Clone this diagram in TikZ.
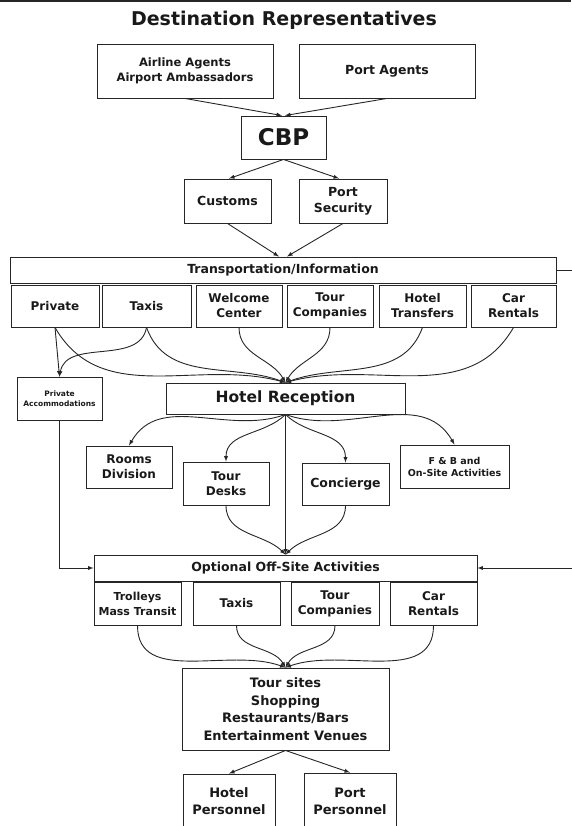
\documentclass[tikz,border=0pt]{standalone}
\usepackage{fontspec}
\setmainfont{DejaVu Sans}
\usepackage{tikz}

\newcommand{\txt}[2]{\bfseries\fontsize{#1}{#2}\selectfont}

\begin{document}
\begin{tikzpicture}[x=1pt, y=1pt, line width=0.9pt, draw=black!85,
  box/.style={draw, rectangle, align=center, inner sep=0pt, text=black!90, font=\txt{12}{15}},
  arr/.style={->, >=latex}]
\useasboundingbox (0,0) rectangle (571,-826);
\fill[black!85] (0,0) rectangle (571,-2.2);
\node[font=\txt{19}{22}, text=black!90] (title) at (284,-20) {Destination Representatives};
% entry
\node[box, minimum width=176, minimum height=54, font=\txt{11.5}{14.5}] (air) at (185,-71) {Airline Agents\\Airport Ambassadors};
\node[box, minimum width=176, minimum height=54, font=\txt{12.5}{15}] (port) at (387,-71) {Port Agents};
\node[box, minimum width=85, minimum height=43, font=\txt{23}{26}] (cbp) at (283.5,-137.5) {CBP};
\node[box, minimum width=87, minimum height=44, font=\txt{12.5}{16}] (cust) at (227.5,-201) {Customs};
\node[box, minimum width=88, minimum height=44, font=\txt{12.5}{16}] (psec) at (343,-201) {Port\\Security};
\draw[arr] (air.south) -- ([xshift=-1.5pt]cbp.north);
\draw[arr] (port.south) -- ([xshift=1.5pt]cbp.north);
\draw[arr] (cbp.south) -- ([xshift=1.5pt]cust.north);
\draw[arr] (cbp.south) -- ([xshift=-4pt]psec.north);
% transportation
\node[box, minimum width=546, minimum height=26, font=\txt{12.5}{15}] (trans) at (283,-270) {Transportation/Information};
\draw[arr] (cust.south) -- ([xshift=-4pt]trans.north);
\draw[arr] (psec.south) -- ([xshift=4pt]trans.north);
\node[box, minimum width=88, minimum height=42] (priv) at (55,-306) {Private};
\node[box, minimum width=89, minimum height=42] (taxi) at (146.5,-306) {Taxis};
\node[box, minimum width=86, minimum height=42] (welc) at (239,-306) {Welcome\\Center};
\node[box, minimum width=86, minimum height=42] (tour) at (330,-306) {Tour\\Companies};
\node[box, minimum width=87, minimum height=42] (htr) at (422.5,-306) {Hotel\\Transfers};
\node[box, minimum width=85, minimum height=42] (car) at (513.5,-306) {Car\\Rentals};
\node[box, minimum width=85, minimum height=43, font=\txt{7.5}{10}] (pacc) at (59.5,-398.5) {Private\\Accommodations};
\node[box, minimum width=239, minimum height=31, font=\txt{15.5}{18}] (hrec) at (285.5,-398.5) {Hotel Reception};
\draw[arr] (priv.south) -- (pacc.north);
\draw[arr] (taxi.south) to[out=-100, in=80] (pacc.north);
\draw[arr] (priv.south) to[out=-60, in=165] (hrec.north);
\draw[arr] (taxi.south) to[out=-70, in=160] (hrec.north);
\draw[arr] (welc.south) to[out=-90, in=120] (hrec.north);
\draw[arr] (tour.south) to[out=-90, in=60] (hrec.north);
\draw[arr] (htr.south) to[out=-110, in=20] (hrec.north);
\draw[arr] (car.south) to[out=-120, in=15] (hrec.north);
% hotel
\node[box, minimum width=86, minimum height=42] (rooms) at (129,-467) {Rooms\\Division};
\node[box, minimum width=86, minimum height=43] (desks) at (226,-483.5) {Tour\\Desks};
\node[box, minimum width=87, minimum height=42, font=\txt{12.5}{15}] (conc) at (345.5,-484) {Concierge};
\node[box, minimum width=109, minimum height=43, font=\txt{9.5}{12}] (fb) at (454.5,-466.5) {F \& B and\\On-Site Activities};
\draw[arr] (hrec.south) to[out=-160, in=60] (rooms.north);
\draw[arr] (hrec.south) to[out=-135, in=90] (desks.north);
\draw[arr] (hrec.south) to[out=-45, in=90] (conc.north);
\draw[arr] (hrec.south) to[out=-20, in=120] (fb.north);
% off-site
\node[box, minimum width=383, minimum height=26, font=\txt{12.5}{15}] (opt) at (285.5,-568) {Optional Off-Site Activities};
\draw[arr] (hrec.south) -- (opt.north);
\draw[arr] (desks.south) to[out=-90, in=135] (opt.north);
\draw[arr] (conc.south) to[out=-90, in=45] (opt.north);
\draw[arr] (pacc.south) |- (opt.west);
\draw[arr] (trans.east) -- ++(30,0) |- (opt.east);
\node[box, minimum width=87, minimum height=43, font=\txt{11}{15}] (trol) at (137.5,-603.5) {Trolleys\\Mass Transit};
\node[box, minimum width=87, minimum height=43] (taxi2) at (236.5,-603.5) {Taxis};
\node[box, minimum width=88, minimum height=43] (tour2) at (335,-603.5) {Tour\\Companies};
\node[box, minimum width=87, minimum height=43] (car2) at (433.5,-603.5) {Car\\Rentals};
\node[box, minimum width=207, minimum height=82, font=\txt{13}{17.5}] (sites) at (285.5,-709) {Tour sites\\Shopping\\Restaurants/Bars\\Entertainment Venues};
\draw[arr] (trol.south) to[out=-90, in=160] (sites.north);
\draw[arr] (taxi2.south) to[out=-90, in=120] (sites.north);
\draw[arr] (tour2.south) to[out=-90, in=60] (sites.north);
\draw[arr] (car2.south) to[out=-90, in=20] (sites.north);
% personnel
\node[box, minimum width=92, minimum height=55, font=\txt{13}{17}] (hper) at (229,-801.5) {Hotel\\Personnel};
\node[box, minimum width=92, minimum height=56, font=\txt{13}{17}] (pper) at (350,-801) {Port\\Personnel};
\draw[arr] (sites.south) -- (hper.north);
\draw[arr] (sites.south) -- (pper.north);
\end{tikzpicture}
\end{document}
